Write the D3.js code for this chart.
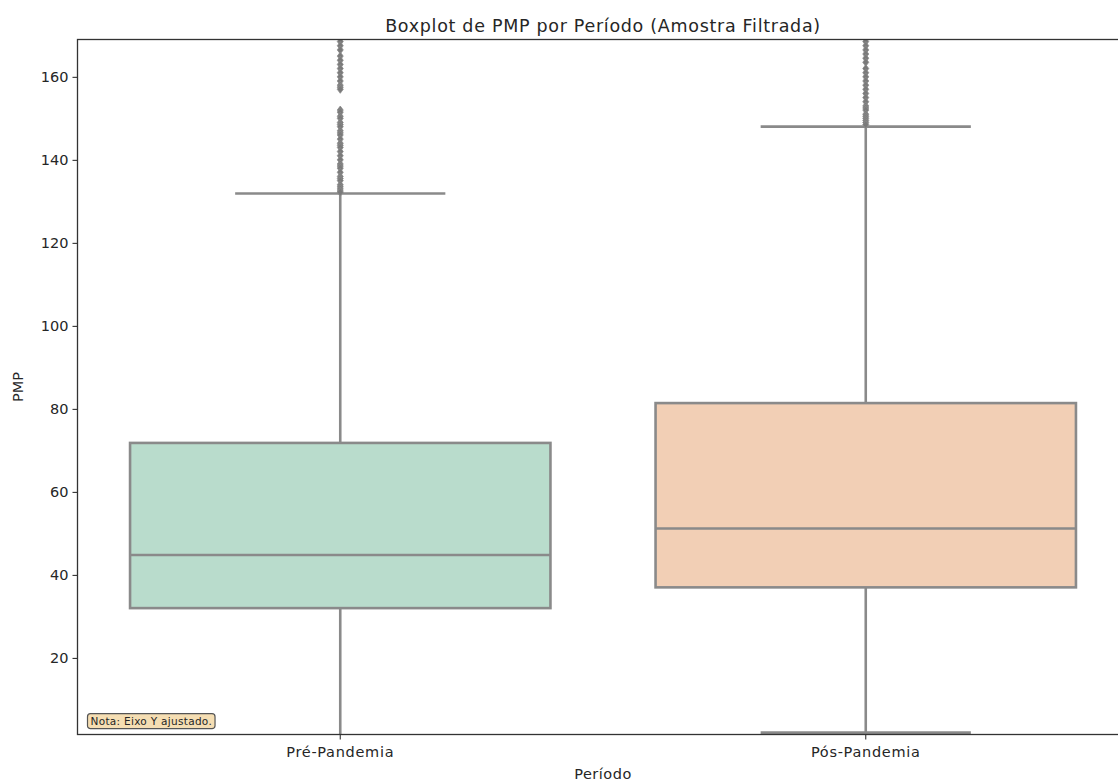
<!DOCTYPE html>
<html>
<head>
<meta charset="utf-8">
<script src="https://cdn.jsdelivr.net/npm/d3@7"></script>
<style>
  body { margin: 0; background: #fff; }
  text { font-family: "DejaVu Sans", sans-serif; fill: #262626; }
</style>
</head>
<body>
<svg class="box" width="1118" height="783"></svg>
<script>
// chart values
const categories = ["Pré-Pandemia", "Pós-Pandemia"];
const fills = ["#b9dccc", "#f2cfb5"];
const q1 = [32.0, 37.0];
const median = [44.8, 51.2];
const q3 = [71.8, 81.4];
const whiskerLow = [0, 2.0];
const whiskerHigh = [131.9, 148.0];
const outliersPre = [170, 168.5, 167.5, 166.5, 165, 164, 163, 162, 161, 160, 159, 158, 157.5, 157,
    152, 151.5, 150.5, 150, 149, 148.5, 148, 147, 146.5, 146, 145, 144, 143.5, 143, 142, 141, 140, 139,
    138.5, 138, 137, 136, 135.5, 135, 134, 133.5, 133, 132.5, 132.2];
const outliersPost = [170, 168.5, 167.5, 166.5, 165.5, 164.5, 163.5, 162, 161, 160, 159, 158,
    157, 156, 155, 154, 153, 152.5, 152, 151, 150.5, 150, 149.5, 149, 148.5];
const yTicks = [20, 40, 60, 80, 100, 120, 140, 160];
const yDomain = [1.55, 169];

const svg = d3.select("svg.box");
const margin = { top: 39.5, left: 77.5 };
const width = 1051;
const height = 695;
const g = svg.append("g").attr("transform", `translate(${margin.left}, ${margin.top})`);

const x = d3.scaleBand().domain(categories).range([0, width]);
const y = d3.scaleLinear().domain(yDomain).range([height, 0]);

svg.append("defs").append("clipPath").attr("id", "plotclip")
    .append("rect").attr("width", width).attr("height", height);

const plot = g.append("g").attr("clip-path", "url(#plotclip)");
const lineColor = "#8a8a8a";
const boxW = x.bandwidth() * 0.8;

const stats = categories.map((c, i) => ({
    cat: c, fill: fills[i], q1: q1[i], med: median[i], q3: q3[i],
    lo: whiskerLow[i], hi: whiskerHigh[i],
    out: i === 0 ? outliersPre : outliersPost
}));

const box = plot.selectAll(".bx")
    .data(stats)
    .enter().append("g")
    .attr("class", "bx")
    .attr("transform", d => `translate(${x(d.cat) + x.bandwidth() / 2}, 0)`);

// whiskers
box.append("line").attr("y1", d => y(d.q3)).attr("y2", d => y(d.hi))
    .attr("stroke", lineColor).attr("stroke-width", 2.6);
box.append("line").attr("y1", d => y(d.q1)).attr("y2", d => y(d.lo))
    .attr("stroke", lineColor).attr("stroke-width", 2.6);
box.selectAll(".cap")
    .data(d => [d.lo, d.hi])
    .enter().append("line")
    .attr("x1", -boxW / 4).attr("x2", boxW / 4)
    .attr("y1", d => y(d)).attr("y2", d => y(d))
    .attr("stroke", lineColor).attr("stroke-width", 2.6);

box.append("rect")
    .attr("x", -boxW / 2)
    .attr("width", boxW)
    .attr("y", d => y(d.q3))
    .attr("height", d => y(d.q1) - y(d.q3))
    .attr("fill", d => d.fill)
    .attr("stroke", lineColor).attr("stroke-width", 2.6);

box.append("line")
    .attr("x1", -boxW / 2).attr("x2", boxW / 2)
    .attr("y1", d => y(d.med)).attr("y2", d => y(d.med))
    .attr("stroke", lineColor).attr("stroke-width", 2.6);

// outliers as diamonds
const diamond = "M0,-4L3,0L0,4L-3,0Z";
box.selectAll(".fl")
    .data(d => d.out)
    .enter().append("path")
    .attr("class", "fl")
    .attr("d", diamond)
    .attr("transform", d => `translate(0, ${y(d)})`)
    .attr("fill", "#7a7a7a")
    .attr("stroke", "#8a8a8a").attr("stroke-width", 0.8);

// axes
const yAxis = g.append("g")
    .call(d3.axisLeft(y).tickValues(yTicks).tickSize(5).tickPadding(4));
const xAxis = g.append("g")
    .attr("transform", `translate(0, ${height})`)
    .call(d3.axisBottom(x).tickSize(5).tickPadding(7));
[yAxis, xAxis].forEach(a => {
    a.select(".domain").remove();
    a.selectAll(".tick line").attr("stroke", "#333").attr("stroke-width", 1.1);
    a.selectAll(".tick text").attr("font-size", 14.5).attr("fill", "#262626")
        .style("font-family", "DejaVu Sans, sans-serif");
});
xAxis.selectAll(".tick text").style("letter-spacing", "0.7px");

// frame
g.append("rect").attr("width", width).attr("height", height)
    .attr("fill", "none").attr("stroke", "#333").attr("stroke-width", 1.3);

// note box
const note = g.append("g").attr("transform", `translate(9, ${height - 13})`);
const noteText = note.append("text")
    .attr("x", 4).attr("y", 0).attr("dy", "0.35em")
    .attr("font-size", 10.5)
    .style("letter-spacing", "0.3px")
    .text("Nota: Eixo Y ajustado.");
const bb = noteText.node().getBBox();
note.insert("rect", "text")
    .attr("x", bb.x - 3).attr("y", bb.y - 1.5)
    .attr("width", bb.width + 6).attr("height", bb.height + 3)
    .attr("rx", 3)
    .attr("fill", "#f5deb3").attr("stroke", "#555").attr("stroke-width", 1.2);

// labels
svg.append("text")
    .attr("x", margin.left + width / 2).attr("y", 32)
    .attr("text-anchor", "middle").attr("font-size", 17.5)
    .style("letter-spacing", "0.7px")
    .text("Boxplot de PMP por Período (Amostra Filtrada)");
svg.append("text")
    .attr("x", margin.left + width / 2).attr("y", 779)
    .attr("text-anchor", "middle").attr("font-size", 14.5)
    .style("letter-spacing", "0.5px")
    .text("Período");
svg.append("text")
    .attr("transform", `translate(23, ${margin.top + height / 2}) rotate(-90)`)
    .attr("text-anchor", "middle").attr("font-size", 14.5)
    .text("PMP");
</script>
</body>
</html>
